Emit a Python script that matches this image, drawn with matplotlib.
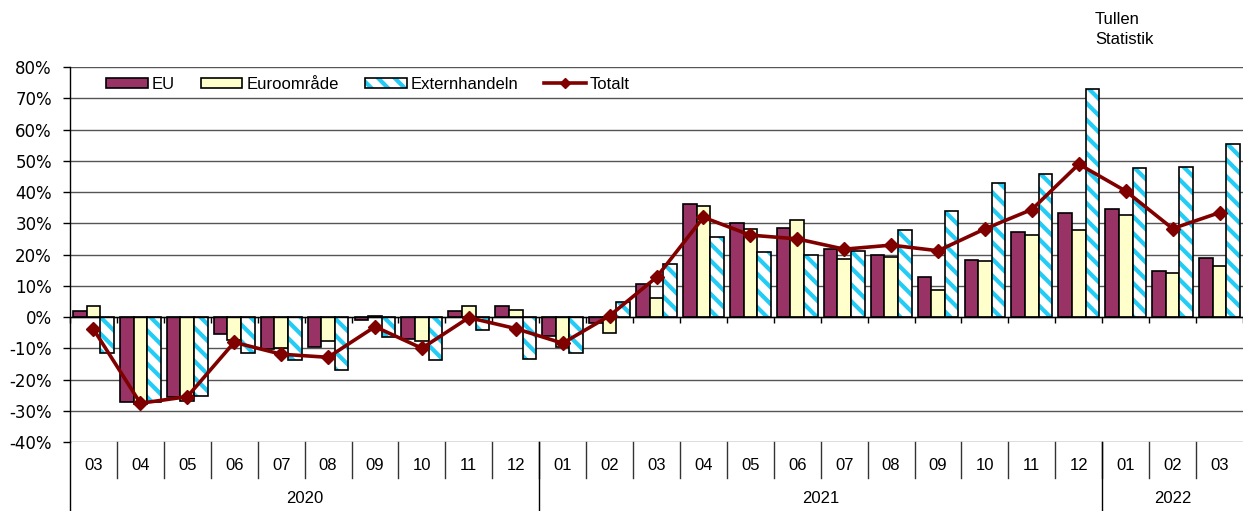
import numpy as np
import matplotlib.pyplot as plt
import matplotlib.patches as mpatches
import matplotlib.transforms as mtransforms
from matplotlib.lines import Line2D

plt.rcParams['font.family'] = ['Liberation Sans', 'DejaVu Sans']
plt.rcParams['hatch.linewidth'] = 3.0

months = ['03', '04', '05', '06', '07', '08', '09', '10', '11', '12',
          '01', '02', '03', '04', '05', '06', '07', '08', '09', '10', '11', '12',
          '01', '02', '03']
years = ['2020', '2021', '2022']
year_counts = [10, 12, 3]

eu = [1.8, -27.3, -25.5, -5.4, -10.2, -9.5, -1.0, -7.1, 2.0, 3.6,
      -6.1, -1.8, 10.5, 36.2, 30.1, 28.4, 21.7, 19.8, 12.9, 18.2, 27.1, 33.2,
      34.6, 14.7, 19.0]
euro = [3.4, -27.8, -26.9, -7.5, -10.0, -7.6, 0.4, -7.7, 3.5, 2.4,
        -9.5, -5.0, 6.2, 35.4, 28.2, 31.1, 18.5, 19.3, 8.8, 17.8, 26.1, 27.8,
        32.6, 14.2, 16.3]
ext = [-11.6, -27.3, -25.3, -11.6, -13.8, -17.0, -6.5, -13.7, -4.2, -13.3,
       -11.4, 4.9, 16.9, 25.5, 20.9, 20.0, 21.2, 27.8, 33.9, 43.0, 45.7, 73.0,
       47.6, 48.1, 55.4]
total = [-3.9, -27.6, -25.5, -8.1, -11.9, -12.9, -3.1, -10.0, -0.2, -3.7,
         -8.4, 0.4, 12.7, 31.9, 26.2, 25.0, 21.7, 23.0, 21.2, 28.2, 34.4, 48.9,
         40.3, 28.3, 33.4]

eu_color = '#993366'
euro_color = '#FFFFCC'
hatch_color = '#22CCF5'
tot_color = '#800000'

fig = plt.figure(figsize=(12.43, 5.11), dpi=100)
W, H = 1243, 511
ax = fig.add_axes([70 / W, (511 - 442) / H, 1173 / W, 375 / H])

x = np.arange(len(months))
w = 0.29

ax.bar(x - w, eu, w, color=eu_color, edgecolor='black', linewidth=1.2, zorder=2)
ax.bar(x, euro, w, color=euro_color, edgecolor='black', linewidth=1.2, zorder=2)
ax.bar(x + w, ext, w, color='white', edgecolor=hatch_color, hatch='\\\\',
       linewidth=0, zorder=2)
ax.bar(x + w, ext, w, fill=False, edgecolor='black', linewidth=1.2, zorder=2.1)
ax.plot(x, total, color=tot_color, linewidth=2.6, marker='D', markersize=7,
        zorder=3)

ax.set_xlim(-0.5, len(months) - 0.5)
ax.set_ylim(-40, 80)
ax.set_yticks(np.arange(-40, 81, 10))
ax.set_yticklabels([f'{v}%' for v in range(-40, 81, 10)], fontsize=12,
                   family='DejaVu Sans')
ax.yaxis.grid(True, color='#555555', linewidth=1.0)
ax.set_axisbelow(True)
ax.tick_params(axis='y', direction='out', length=5, width=1, pad=8)

for s in ['top', 'right']:
    ax.spines[s].set_visible(False)
ax.spines['left'].set_linewidth(1.0)
ax.spines['bottom'].set_position(('data', 0))
ax.spines['bottom'].set_linewidth(1.0)
ax.set_xticks(np.arange(-0.5, len(months), 1.0))
ax.set_xticklabels([])
ax.tick_params(axis='x', direction='out', length=4, width=1)

trans = mtransforms.blended_transform_factory(ax.transData, ax.transAxes)
for i, m in enumerate(months):
    ax.text(i, -0.062, m, transform=trans, ha='center', va='center', fontsize=12)
for b in np.arange(0.5, len(months) - 1, 1.0):
    ax.add_line(Line2D([b, b], [0, -0.096], transform=trans, color='#333333',
                       linewidth=1.0, clip_on=False))
start = 0
for yr, n in zip(years, year_counts):
    ax.text(start + (n - 1) / 2, -0.15, yr, transform=trans, ha='center',
            va='center', fontsize=12)
    ax.add_line(Line2D([start - 0.5, start - 0.5], [0, -0.19], transform=trans,
                       color='black', linewidth=1.0, clip_on=False))
    start += n

h_eu = mpatches.Patch(facecolor=eu_color, edgecolor='black', linewidth=1.2)
h_euro = mpatches.Patch(facecolor=euro_color, edgecolor='black', linewidth=1.2)
h_ext = (mpatches.Patch(facecolor='white', edgecolor=hatch_color, hatch='\\\\',
                        linewidth=0),
         mpatches.Patch(fill=False, edgecolor='black', linewidth=1.2))
h_tot = Line2D([], [], color=tot_color, linewidth=2.6, marker='D', markersize=5)
ax.legend([h_eu, h_euro, h_ext, h_tot], ['EU', 'Euroområde', 'Externhandeln', 'Totalt'],
          ncol=4, loc='center left', bbox_to_anchor=((106 - 70) / 1173, 1 - 17 / 375),
          frameon=False, fontsize=12, handlelength=2.5, handleheight=0.55,
          handletextpad=0.25, columnspacing=1.55, borderpad=0, borderaxespad=0)

fig.text(1095 / W, 1 - 20 / H, 'Tullen', fontsize=12, ha='left', va='center')
fig.text(1095 / W, 1 - 40 / H, 'Statistik', fontsize=12, ha='left', va='center')

fig.savefig('out.png', dpi=100)
